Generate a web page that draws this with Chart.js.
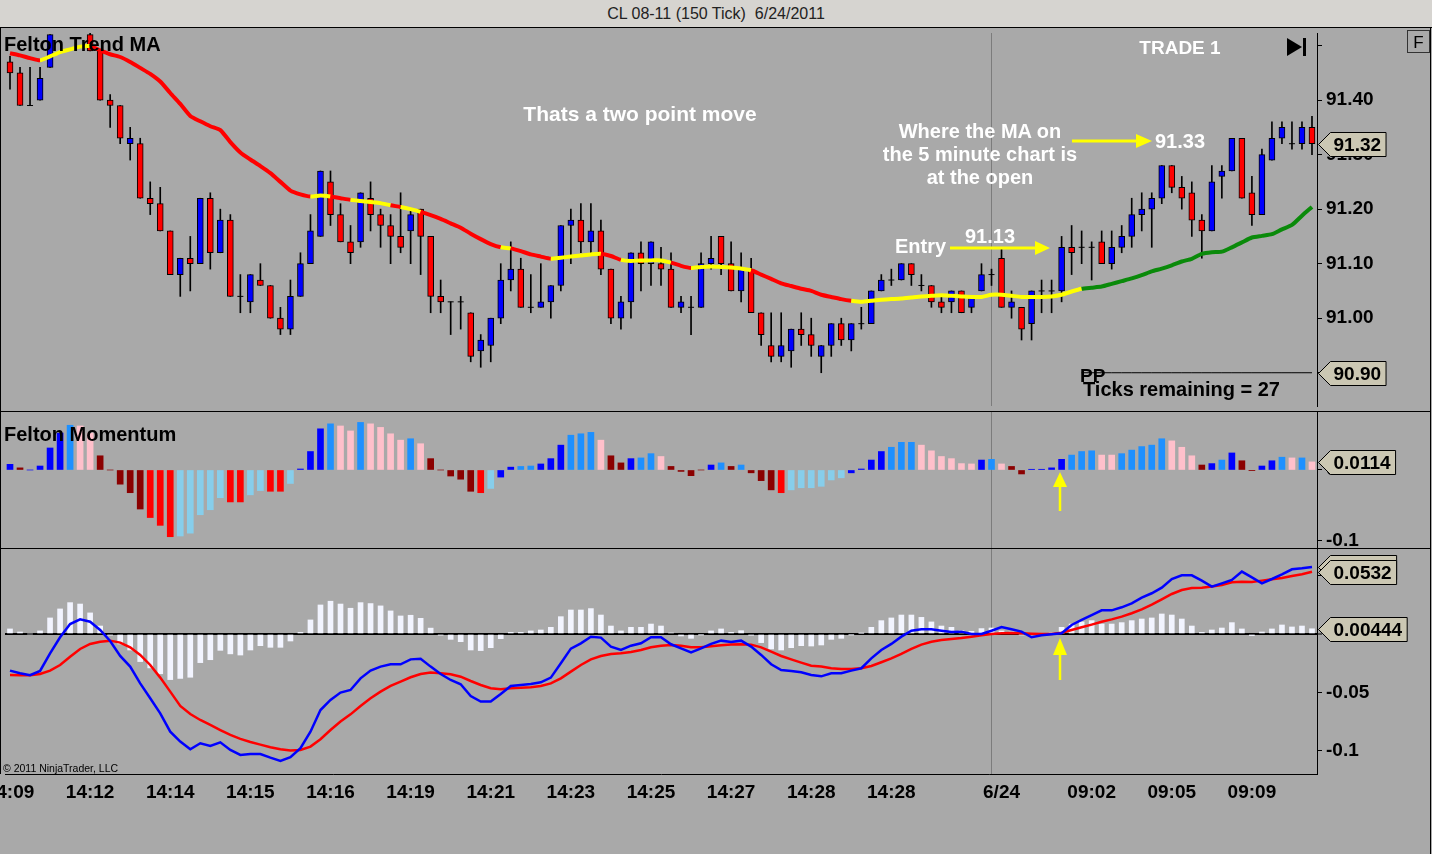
<!DOCTYPE html>
<html>
<head>
<meta charset="utf-8">
<title>CL 08-11 (150 Tick) 6/24/2011</title>
<script src="https://cdn.jsdelivr.net/npm/chart.js@4.4.1/dist/chart.umd.min.js"></script>
<style>
  html, body { margin: 0; padding: 0; }
  body {
    width: 1432px; height: 854px; position: relative; overflow: hidden;
    background: #a9a9a9;
    font-family: 'Liberation Sans', Arial, sans-serif;
  }
  #titlebar {
    position: absolute; left: 0; top: 0; width: 1432px; height: 27px;
    background: #d6d4d0; border-bottom: 1px solid #000;
    text-align: center; font-size: 16px; line-height: 27px; color: #222; white-space: pre;
  }
  canvas { position: absolute; left: 0; }
  #priceChart { top: 28px; }
  #momChart { top: 411px; }
  #macdChart { top: 548px; }
  .rule { position: absolute; background: #000; }
  #notes { position: absolute; left: 0; top: 0; pointer-events: none; }
</style>
</head>
<body>
<div id="titlebar">CL 08-11 (150 Tick)  6/24/2011</div>
<canvas id="priceChart" width="1432" height="383"></canvas>
<canvas id="momChart" width="1432" height="137"></canvas>
<canvas id="macdChart" width="1432" height="262"></canvas>

<div class="rule" style="left:0;top:28px;width:1px;height:746px"></div>
<div class="rule" style="left:0;top:411px;width:1431px;height:1px"></div>
<div class="rule" style="left:0;top:548px;width:1431px;height:1px"></div>
<div class="rule" style="left:1430px;top:28px;width:1px;height:826px"></div>

<svg id="notes" width="1432" height="854" font-family="'Liberation Sans', Arial, sans-serif" font-weight="bold">
  <text x="4" y="51" font-size="20" fill="#000">Felton Trend MA</text>
  <text x="640" y="121" font-size="21" fill="#fff" text-anchor="middle">Thats a two point move</text>
  <text x="1180" y="54" font-size="19" fill="#fff" text-anchor="middle">TRADE 1</text>
  <polygon points="1287,38 1287,56 1302,47" fill="#000"/>
  <rect x="1303" y="38" width="3" height="18" fill="#000"/>
  <rect x="1407.5" y="30.5" width="22" height="22" fill="none" stroke="#333" stroke-width="1"/>
  <text x="1418.5" y="48" font-size="17" font-weight="normal" fill="#000" text-anchor="middle">F</text>

  <text x="980" y="138" font-size="20" fill="#fff" text-anchor="middle">Where the MA on</text>
  <text x="980" y="161" font-size="20" fill="#fff" text-anchor="middle">the 5 minute chart is</text>
  <text x="980" y="184" font-size="20" fill="#fff" text-anchor="middle">at the open</text>
  <line x1="1072" y1="141" x2="1138" y2="141" stroke="#ffff00" stroke-width="3"/>
  <polygon points="1136,134 1152,141 1136,148" fill="#ffff00"/>
  <text x="1155" y="148" font-size="20" fill="#fff">91.33</text>

  <text x="895" y="253" font-size="20" fill="#fff">Entry</text>
  <text x="965" y="243" font-size="20" fill="#fff">91.13</text>
  <line x1="950" y1="248" x2="1037" y2="248" stroke="#ffff00" stroke-width="3"/>
  <polygon points="1035,241 1050,248 1035,255" fill="#ffff00"/>

  <text x="1080" y="382" font-size="19" fill="#000">PP</text>
  <text x="1083" y="396" font-size="20" fill="#000">Ticks remaining = 27</text>

  <text x="4" y="441" font-size="20" fill="#000">Felton Momentum</text>
  <line x1="1060" y1="511" x2="1060" y2="485" stroke="#ffff00" stroke-width="2.5"/>
  <polygon points="1053,487 1060,472 1067,487" fill="#ffff00"/>
  <line x1="1060" y1="680" x2="1060" y2="653" stroke="#ffff00" stroke-width="2.5"/>
  <polygon points="1053,655 1060,638 1067,655" fill="#ffff00"/>

  <text x="3" y="772" font-size="10.5" font-weight="normal" fill="#000">© 2011 NinjaTrader, LLC</text>
</svg>

<script>
// ---- price bars (150 tick CL 08-11) ----
const candleOpen = [
  91.47, 91.45, 91.39, 91.40, 91.46, 91.53, 91.55, 91.55, 91.52, 91.49,
  91.40, 91.39, 91.32, 91.32, 91.22, 91.21, 91.16, 91.08, 91.11, 91.10,
  91.22, 91.12, 91.18, 91.04, 91.03, 91.07, 91.06, 91.00, 90.98, 91.04,
  91.10, 91.15, 91.25, 91.19, 91.14, 91.14, 91.22, 91.19, 91.17, 91.15,
  91.16, 91.20, 91.15, 91.04, 91.03, 91.03, 91.01, 90.94, 90.95, 91.00,
  91.07, 91.09, 91.02, 91.02, 91.03, 91.06, 91.17, 91.18, 91.14, 91.16,
  91.09, 91.00, 91.03, 91.12, 91.10, 91.10, 91.09, 91.02, 91.02, 91.02,
  91.10, 91.15, 91.10, 91.05, 91.09, 91.01, 90.95, 90.93, 90.94, 90.98,
  90.97, 90.93, 90.95, 90.99, 90.96, 90.99, 90.99, 91.05, 91.07, 91.07,
  91.10, 91.06, 91.06, 91.03, 91.03, 91.05, 91.02, 91.05, 91.08, 91.11,
  91.02, 91.02, 90.99, 91.05, 91.05, 91.05, 91.13, 91.13, 91.13, 91.14,
  91.10, 91.13, 91.15, 91.19, 91.20, 91.22, 91.28, 91.24, 91.23, 91.18,
  91.16, 91.26, 91.27, 91.33, 91.23, 91.19, 91.29, 91.33, 91.32, 91.32,
  91.35
];
const candleHigh = [
  91.48, 91.46, 91.46, 91.46, 91.52, 91.56, 91.57, 91.56, 91.53, 91.49,
  91.41, 91.39, 91.35, 91.33, 91.25, 91.24, 91.16, 91.11, 91.15, 91.22,
  91.23, 91.20, 91.19, 91.08, 91.08, 91.10, 91.06, 91.02, 91.07, 91.12,
  91.19, 91.27, 91.27, 91.21, 91.17, 91.23, 91.25, 91.20, 91.19, 91.23,
  91.20, 91.20, 91.15, 91.07, 91.03, 91.04, 91.01, 90.97, 91.00, 91.10,
  91.14, 91.11, 91.08, 91.10, 91.06, 91.17, 91.20, 91.21, 91.21, 91.18,
  91.09, 91.04, 91.12, 91.14, 91.14, 91.13, 91.12, 91.04, 91.04, 91.12,
  91.15, 91.15, 91.14, 91.12, 91.11, 91.01, 91.01, 91.01, 90.98, 91.01,
  91.00, 90.95, 90.99, 91.00, 90.99, 91.02, 91.05, 91.08, 91.09, 91.10,
  91.10, 91.08, 91.06, 91.04, 91.05, 91.05, 91.04, 91.10, 91.09, 91.13,
  91.05, 91.02, 91.05, 91.07, 91.07, 91.15, 91.17, 91.16, 91.14, 91.16,
  91.16, 91.17, 91.22, 91.23, 91.23, 91.28, 91.28, 91.26, 91.25, 91.19,
  91.28, 91.28, 91.33, 91.33, 91.26, 91.31, 91.36, 91.36, 91.36, 91.36,
  91.37
];
const candleLow = [
  91.42, 91.39, 91.39, 91.40, 91.46, 91.53, 91.53, 91.53, 91.49, 91.40,
  91.35, 91.32, 91.29, 91.22, 91.19, 91.16, 91.08, 91.04, 91.05, 91.10,
  91.09, 91.12, 91.04, 91.01, 91.01, 91.06, 91.00, 90.97, 90.97, 91.04,
  91.10, 91.15, 91.17, 91.14, 91.10, 91.13, 91.16, 91.13, 91.10, 91.12,
  91.10, 91.08, 91.01, 91.01, 90.97, 90.98, 90.92, 90.91, 90.92, 90.99,
  91.05, 91.02, 91.01, 91.02, 91.00, 91.05, 91.10, 91.12, 91.12, 91.08,
  90.99, 90.98, 91.00, 91.05, 91.06, 91.06, 91.02, 91.01, 90.97, 91.02,
  91.09, 91.08, 91.05, 91.03, 91.01, 90.95, 90.92, 90.92, 90.91, 90.95,
  90.93, 90.90, 90.93, 90.95, 90.94, 90.98, 90.99, 91.05, 91.06, 91.07,
  91.06, 91.05, 91.02, 91.01, 91.01, 91.01, 91.01, 91.05, 91.06, 91.02,
  91.00, 90.96, 90.96, 91.01, 91.01, 91.03, 91.08, 91.10, 91.07, 91.10,
  91.09, 91.12, 91.13, 91.16, 91.13, 91.21, 91.23, 91.20, 91.15, 91.11,
  91.16, 91.22, 91.27, 91.22, 91.17, 91.19, 91.29, 91.32, 91.31, 91.31,
  91.30
];
const candleClose = [
  91.45, 91.39, 91.39, 91.44, 91.52, 91.55, 91.54, 91.54, 91.49, 91.40,
  91.39, 91.33, 91.33, 91.22, 91.21, 91.16, 91.08, 91.11, 91.10, 91.22,
  91.12, 91.18, 91.04, 91.04, 91.08, 91.06, 91.00, 90.98, 91.04, 91.10,
  91.16, 91.27, 91.19, 91.14, 91.12, 91.23, 91.19, 91.17, 91.15, 91.13,
  91.19, 91.15, 91.04, 91.03, 91.03, 91.03, 90.93, 90.96, 91.00, 91.07,
  91.09, 91.02, 91.02, 91.03, 91.06, 91.17, 91.18, 91.14, 91.16, 91.09,
  91.00, 91.03, 91.12, 91.10, 91.14, 91.09, 91.02, 91.03, 91.02, 91.10,
  91.11, 91.10, 91.05, 91.09, 91.01, 90.97, 90.93, 90.95, 90.98, 90.97,
  90.95, 90.95, 90.99, 90.96, 90.99, 90.99, 91.05, 91.07, 91.07, 91.10,
  91.08, 91.06, 91.03, 91.02, 91.05, 91.01, 91.04, 91.08, 91.08, 91.02,
  91.03, 90.98, 91.05, 91.05, 91.05, 91.13, 91.12, 91.13, 91.13, 91.10,
  91.13, 91.15, 91.19, 91.20, 91.22, 91.28, 91.24, 91.22, 91.18, 91.16,
  91.25, 91.27, 91.33, 91.22, 91.19, 91.30, 91.33, 91.35, 91.32, 91.35,
  91.32
];

// Felton Trend MA and its trend state (start index of each run)
const trendMA = [
  91.486, 91.482, 91.477, 91.473, 91.480, 91.488, 91.493, 91.498, 91.499, 91.491,
  91.484, 91.479, 91.470, 91.459, 91.448, 91.434, 91.413, 91.393, 91.371, 91.361,
  91.352, 91.345, 91.323, 91.304, 91.291, 91.279, 91.266, 91.250, 91.234, 91.227,
  91.223, 91.225, 91.223, 91.220, 91.217, 91.215, 91.213, 91.211, 91.207, 91.204,
  91.200, 91.195, 91.189, 91.182, 91.174, 91.166, 91.155, 91.145, 91.136, 91.130,
  91.128, 91.123, 91.117, 91.113, 91.109, 91.111, 91.113, 91.115, 91.117, 91.118,
  91.114, 91.107, 91.105, 91.106, 91.106, 91.106, 91.102, 91.096, 91.092, 91.094,
  91.095, 91.094, 91.093, 91.091, 91.088, 91.080, 91.072, 91.064, 91.059, 91.054,
  91.050, 91.043, 91.039, 91.035, 91.032, 91.030, 91.032, 91.034, 91.035, 91.036,
  91.038, 91.040, 91.041, 91.042, 91.041, 91.040, 91.039, 91.039, 91.043, 91.043,
  91.041, 91.039, 91.039, 91.039, 91.040, 91.043, 91.049, 91.054, 91.056, 91.058,
  91.063, 91.068, 91.073, 91.079, 91.086, 91.091, 91.097, 91.104, 91.109, 91.118,
  91.121, 91.122, 91.130, 91.139, 91.148, 91.151, 91.154, 91.163, 91.171, 91.188,
  91.204
];
const maTrendRuns = [
  [0, 'down'], [3, 'flat'], [8, 'down'], [30, 'flat'], [32, 'down'], [34, 'flat'],
  [38, 'down'], [39, 'flat'], [41, 'down'], [49, 'flat'], [50, 'down'], [54, 'flat'],
  [59, 'down'], [61, 'flat'], [66, 'down'], [68, 'flat'], [74, 'down'], [84, 'flat'],
  [107, 'up']
];

const ppLevel = 90.90;
const ppStartIndex = 107;
const sessionBreakIndex = 98;

// Felton Momentum histogram + state per bar
const momentum = [
  0.008, 0.003, 0, 0.0056, 0.031, 0.052, 0.063, 0.062, 0.052, 0.020,
  0, -0.020, -0.032, -0.055, -0.067, -0.078, -0.094, -0.093, -0.089, -0.063,
  -0.056, -0.039, -0.045, -0.045, -0.035, -0.029, -0.030, -0.030, -0.019, 0.0014,
  0.026, 0.058, 0.065, 0.062, 0.055, 0.067, 0.065, 0.060, 0.051, 0.042,
  0.044, 0.037, 0.016, 0, -0.0085, -0.013, -0.030, -0.032, -0.026, -0.010,
  0.004, 0.005, 0.0056, 0.0085, 0.016, 0.035, 0.049, 0.051, 0.053, 0.042,
  0.020, 0.010, 0.016, 0.017, 0.023, 0.019, 0.005, -0.002, -0.008, 0,
  0.007, 0.010, 0.005, 0.007, -0.004, -0.015, -0.028, -0.032, -0.028, -0.025,
  -0.025, -0.023, -0.014, -0.011, -0.004, 0.0014, 0.014, 0.026, 0.032, 0.039,
  0.039, 0.035, 0.027, 0.019, 0.016, 0.009, 0.0085, 0.014, 0.015, 0.0085,
  0.005, -0.0056, 0.001, 0.001, 0.003, 0.015, 0.021, 0.026, 0.027, 0.021,
  0.021, 0.023, 0.028, 0.033, 0.035, 0.044, 0.041, 0.032, 0.020, 0.007,
  0.009, 0.014, 0.024, 0.013, -0.001, 0.0056, 0.013, 0.018, 0.017, 0.017,
  0.0114
];
// B up-strong, D up, P up-fading, M down-weak, R down-strong, S down-fading
const momState = (
  'BMBBBBDPPM' + 'MMMMRRRSSS' + 'SSRRSSRRSB' + 'BBDPPDPPPP' + 'DPMMMMMRSB' +
  'BDDBBBDDDP' + 'MMBDDPMMMM' + 'BDMDMMMRSS' + 'SSSSBBBBDD' + 'DPPPPPPBDP' +
  'MMBBBBDDDP' + 'PDDDDDPPPM' + 'BDBMMBBDPD' + 'P'
).split('');

// MACD panel
const macdHist = [
  0.0043, 0.0017, 0, 0.0026, 0.0137, 0.0214, 0.0268, 0.0256, 0.018, 0.0068,
  -0.001, -0.0085, -0.0137, -0.0236, -0.029, -0.034, -0.039, -0.038, -0.037, -0.0245,
  -0.022, -0.014, -0.017, -0.018, -0.0137, -0.010, -0.0114, -0.0114, -0.006, 0.0014,
  0.012, 0.0248, 0.028, 0.0256, 0.022, 0.0268, 0.026, 0.024, 0.0197, 0.0154,
  0.016, 0.0134, 0.005, -0.001, -0.0046, -0.0066, -0.0137, -0.0142, -0.0117, -0.004,
  0.0014, 0.0014, 0.0026, 0.0034, 0.0057, 0.0148, 0.0205, 0.0205, 0.0217, 0.0162,
  0.0068, 0.0026, 0.0057, 0.0057, 0.0085, 0.0068, 0.0009, -0.0017, -0.0037, -0.0006,
  0.0026, 0.0043, 0.0014, 0.0028, -0.0011, -0.0074, -0.0128, -0.0137, -0.0117, -0.010,
  -0.0103, -0.0094, -0.0046, -0.0037, -0.0006, 0.0006, 0.0057, 0.0114, 0.0137, 0.0162,
  0.0162, 0.0142, 0.0103, 0.0068, 0.0057, 0.0028, 0.0023, 0.0046, 0.0051, 0.0026,
  0.0017, -0.0006, 0, 0, 0.0009, 0.0057, 0.0085, 0.0103, 0.0114, 0.0085,
  0.0085, 0.0097, 0.0114, 0.0128, 0.0137, 0.0171, 0.0162, 0.0128, 0.0068, 0.0014,
  0.0034, 0.0051, 0.0097, 0.0043, -0.0014, 0.0017, 0.0043, 0.0077, 0.006, 0.0068,
  0.00444
];
const macdLine = [
  -0.0313, -0.0336, -0.0353, -0.0316, -0.0165, -0.0028, 0.0085, 0.0125, 0.0105, 0.0034,
  -0.006, -0.0188, -0.0279, -0.0422, -0.055, -0.0678, -0.0835, -0.092, -0.0986, -0.0934,
  -0.0957, -0.0926, -0.0991, -0.1034, -0.1026, -0.1026, -0.1057, -0.1085, -0.1054, -0.0977,
  -0.0835, -0.065, -0.0564, -0.0501, -0.0479, -0.0379, -0.0313, -0.0279, -0.0259, -0.0259,
  -0.0217, -0.0211, -0.0279, -0.0342, -0.0393, -0.043, -0.053, -0.0578, -0.0578, -0.0513,
  -0.0444, -0.0436, -0.0427, -0.0413, -0.0373, -0.0251, -0.0125, -0.008, -0.0023, -0.0031,
  -0.0108, -0.0137, -0.010, -0.008, -0.0028, -0.0028, -0.0088, -0.0123, -0.0157, -0.0123,
  -0.0085, -0.0057, -0.0068, -0.0057, -0.0108, -0.0179, -0.0259, -0.0308, -0.0316, -0.0328,
  -0.035, -0.0362, -0.0336, -0.0336, -0.0313, -0.0293, -0.0208, -0.0137, -0.0085, -0.0023,
  0.0028, 0.004, 0.004, 0.0028, 0.0017, 0.002, 0, 0, 0.0028, 0.006,
  0.004, 0.002, -0.0028, -0.0011, -0.0003, 0.0006, 0.0077, 0.012, 0.0162, 0.0202,
  0.0202, 0.0228, 0.0262, 0.0311, 0.0348, 0.0396, 0.047, 0.0501, 0.0501, 0.0456,
  0.0405, 0.0433, 0.0462, 0.0533, 0.0484, 0.0433, 0.047, 0.051, 0.0553, 0.0561,
  0.0573
];
const signalLine = [
  -0.035, -0.0353, -0.0353, -0.0342, -0.0313, -0.0265, -0.0194, -0.0128, -0.0085, -0.0066,
  -0.0057, -0.0074, -0.0114, -0.0179, -0.0265, -0.0373, -0.0493, -0.0615, -0.0684, -0.0735,
  -0.0778, -0.0821, -0.0863, -0.0897, -0.0923, -0.0946, -0.0969, -0.0986, -0.0997, -0.0991,
  -0.0963, -0.09, -0.0821, -0.0749, -0.0687, -0.0615, -0.055, -0.0493, -0.0444, -0.0407,
  -0.037, -0.0342, -0.033, -0.0336, -0.0345, -0.0365, -0.0402, -0.0436, -0.0464, -0.0473,
  -0.0464, -0.0459, -0.0456, -0.0444, -0.0422, -0.0379, -0.0322, -0.0265, -0.0217, -0.0188,
  -0.0171, -0.0165, -0.0154, -0.0137, -0.0114, -0.010, -0.0094, -0.010, -0.0114, -0.0114,
  -0.0105, -0.0097, -0.0091, -0.0088, -0.0091, -0.0114, -0.0151, -0.0188, -0.0217, -0.0245,
  -0.0271, -0.0279, -0.0293, -0.0299, -0.0299, -0.0293, -0.0274, -0.0242, -0.0208, -0.0171,
  -0.0128, -0.0091, -0.0066, -0.0051, -0.0043, -0.0034, -0.0023, -0.0011, 0, 0.0006,
  0.0009, 0.0006, 0.0003, 0, 0, 0.0011, 0.0034, 0.0057, 0.008, 0.0105,
  0.0125, 0.0148, 0.0177, 0.0211, 0.0251, 0.0296, 0.0342, 0.0376, 0.0393, 0.0396,
  0.0405, 0.0419, 0.0442, 0.0447, 0.0444, 0.0456, 0.0467, 0.0479, 0.0496, 0.051,
  0.0532
];

// axis ticks
const xLabelMarks = [
  [0, '14:09'], [8, '14:12'], [16, '14:14'], [24, '14:15'], [32, '14:16'], [40, '14:19'],
  [48, '14:21'], [56, '14:23'], [64, '14:25'], [72, '14:27'], [80, '14:28'], [88, '14:28'],
  [99, '6/24'], [108, '09:02'], [116, '09:05'], [124, '09:09']
];
const priceTicks = [90.9, 91.0, 91.1, 91.2, 91.3, 91.4, 91.5];
const momTicks = [-0.1, 0];
const macdTicks = [-0.1, -0.05, 0, 0.05];

// ---- setup ----
const FONT = "'Liberation Sans', Arial, sans-serif";
Chart.defaults.font.family = FONT;
Chart.defaults.color = '#000';

const labels = candleClose.map((_, i) => {
  const m = xLabelMarks.find(([k]) => k === i);
  return m ? m[1] : '';
});

const trendColors = { down: '#ff0000', flat: '#ffff00', up: '#0a8a0a' };
function trendAt(i) {
  let t = maTrendRuns[0][1];
  maTrendRuns.forEach(([start, state]) => { if (i >= start) t = state; });
  return t;
}
const momColors = { B: '#0000ff', D: '#1e90ff', P: '#ffc0cb', M: '#8b0000', R: '#ff0000', S: '#87ceeb' };

function xScale(showLabels) {
  return {
    type: 'category',
    offset: true,
    ticks: {
      display: showLabels, autoSkip: false, maxRotation: 0, minRotation: 0,
      color: '#000', font: { size: 19, weight: 'bold' }, padding: 7
    },
    grid: {
      offset: false, drawTicks: false,
      color: c => c.index === sessionBreakIndex ? '#7c7c7c' : 'rgba(0,0,0,0)'
    },
    border: { display: showLabels, color: '#000', width: 1 },
    afterFit: s => { s.height = showLabels ? 36 : 0; s.paddingLeft = 0; s.paddingRight = 0; }
  };
}

function yScale(min, max, tickValues, fmt, zeroLine) {
  return {
    position: 'right',
    min, max,
    afterBuildTicks: s => { s.ticks = tickValues.map(v => ({ value: v })); },
    afterFit: s => { s.width = 115; s.paddingTop = 0; s.paddingBottom = 0; },
    ticks: { color: '#000', font: { size: 19, weight: 'bold' }, padding: 4, callback: fmt },
    grid: {
      drawOnChartArea: !!zeroLine,
      tickLength: 5, tickColor: '#000', tickWidth: 1,
      color: c => (zeroLine && c.tick && c.tick.value === 0) ? '#000' : 'rgba(0,0,0,0)',
      lineWidth: c => (zeroLine && c.tick && c.tick.value === 0) ? 2 : 1
    },
    border: { display: true, color: '#000', width: 1 }
  };
}

// value tags on the right axis (last values)
function valueTags(tags) {
  return {
    id: 'valueTags',
    afterDraw(chart) {
      const { ctx, chartArea, scales } = chart;
      ctx.save();
      ctx.font = 'bold 19px ' + FONT;
      ctx.textBaseline = 'middle';
      tags.forEach(t => {
        const y = Math.round(scales.y.getPixelForValue(t.value)) + 0.5;
        const x0 = chartArea.right + 1.5;
        const w = ctx.measureText(t.text).width + 8;
        ctx.beginPath();
        ctx.moveTo(x0, y);
        ctx.lineTo(x0 + 12, y - 12);
        ctx.lineTo(x0 + 12 + w, y - 12);
        ctx.lineTo(x0 + 12 + w, y + 12);
        ctx.lineTo(x0 + 12, y + 12);
        ctx.closePath();
        ctx.fillStyle = '#cbc7b3';
        ctx.fill();
        ctx.strokeStyle = '#000';
        ctx.lineWidth = 1;
        ctx.stroke();
        ctx.fillStyle = '#000';
        ctx.fillText(t.text, x0 + 15, y + 1);
      });
      ctx.restore();
    }
  };
}

const baseOptions = {
  responsive: false,
  animation: false,
  events: [],
  layout: { padding: { left: 5, right: 0, top: 0, bottom: 0 } },
  plugins: { legend: { display: false }, tooltip: { enabled: false } }
};

// ---- price panel ----
const last = candleClose.length - 1;
new Chart(document.getElementById('priceChart'), {
  type: 'bar',
  data: {
    labels,
    datasets: [
      {
        type: 'line', label: 'Felton Trend MA', data: trendMA, order: 0,
        borderWidth: 4, pointRadius: 0, tension: 0.2, borderColor: '#ff0000',
        segment: { borderColor: c => trendColors[trendAt(c.p0DataIndex)] }
      },
      {
        type: 'line', label: 'doji', order: 1, showLine: false,
        data: candleClose.map((c, i) => c === candleOpen[i] ? c : null),
        pointStyle: 'line', pointRadius: 3, pointBorderColor: '#000', pointBorderWidth: 1
      },
      {
        label: 'body', order: 2, grouped: false, barThickness: 6,
        data: candleOpen.map((o, i) => [o, candleClose[i]]),
        backgroundColor: candleOpen.map((o, i) => candleClose[i] > o ? '#0000ff' : '#ff0000'),
        borderColor: '#000', borderWidth: 1, borderSkipped: false
      },
      {
        label: 'wick', order: 3, grouped: false, barThickness: 1,
        data: candleLow.map((l, i) => [l, candleHigh[i]]),
        backgroundColor: '#000'
      },
      {
        type: 'line', label: 'PP', order: 4,
        data: labels.map((_, i) => i >= ppStartIndex ? ppLevel : null),
        borderColor: '#000', borderWidth: 1, pointRadius: 0
      }
    ]
  },
  options: {
    ...baseOptions,
    scales: {
      x: xScale(false),
      y: yScale(90.839, 91.523, priceTicks, v => v === 91.5 ? '' : v.toFixed(2), false)
    }
  },
  plugins: [valueTags([
    { value: candleClose[last], text: candleClose[last].toFixed(2) },
    { value: ppLevel, text: ppLevel.toFixed(2) }
  ])]
});

// ---- momentum panel ----
new Chart(document.getElementById('momChart'), {
  type: 'bar',
  data: {
    labels,
    datasets: [{
      label: 'Felton Momentum', data: momentum, barThickness: 6,
      backgroundColor: momState.map(s => momColors[s])
    }]
  },
  options: {
    ...baseOptions,
    scales: {
      x: xScale(false),
      y: yScale(-0.1099, 0.0831, momTicks, v => String(v), false)
    }
  },
  plugins: [valueTags([{ value: momentum[last], text: String(momentum[last]) }])]
});

// ---- MACD panel ----
new Chart(document.getElementById('macdChart'), {
  type: 'bar',
  data: {
    labels,
    datasets: [
      {
        type: 'line', label: 'MACD', data: macdLine, order: 0,
        borderColor: '#0000ff', borderWidth: 2.5, pointRadius: 0, tension: 0
      },
      {
        type: 'line', label: 'Avg', data: signalLine, order: 1,
        borderColor: '#ff0000', borderWidth: 2.5, pointRadius: 0, tension: 0
      },
      {
        label: 'Diff', data: macdHist, order: 2, barThickness: 5,
        backgroundColor: '#f2f4ff'
      }
    ]
  },
  options: {
    ...baseOptions,
    scales: {
      x: xScale(true),
      y: yScale(-0.1197, 0.0735, macdTicks, v => String(v), true)
    }
  },
  plugins: [valueTags([
    { value: macdLine[last], text: String(macdLine[last]) },
    { value: signalLine[last], text: String(signalLine[last]) },
    { value: macdHist[last], text: String(macdHist[last]) }
  ])]
});
</script>
</body>
</html>
